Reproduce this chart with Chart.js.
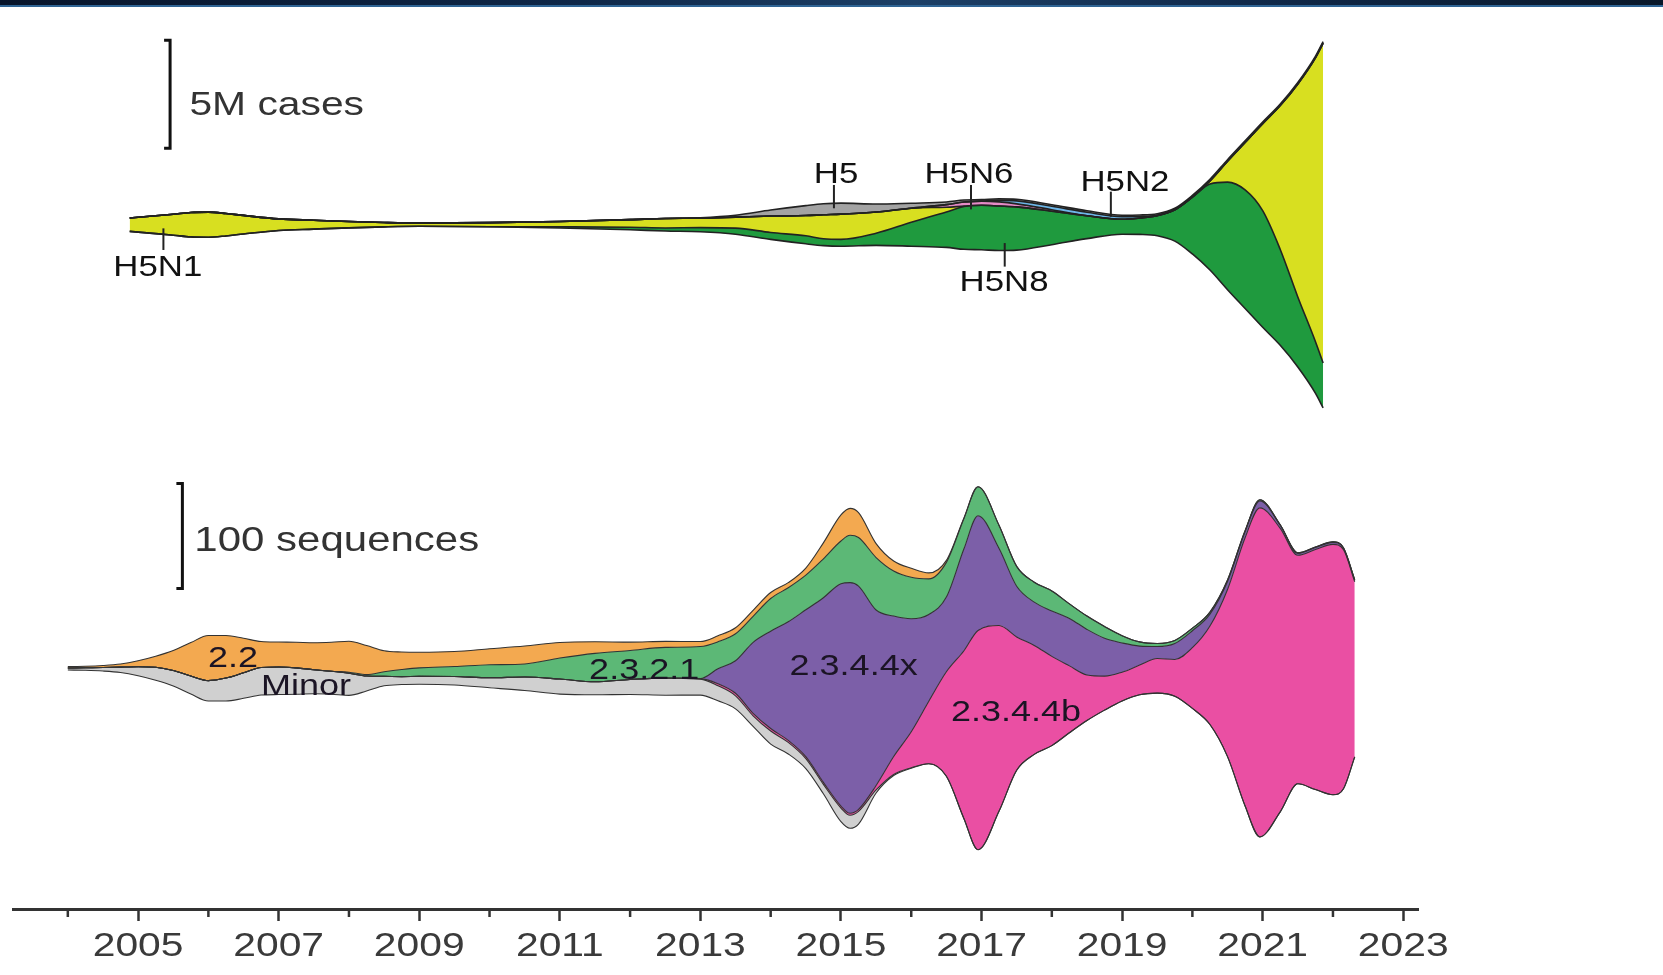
<!DOCTYPE html>
<html>
<head>
<meta charset="utf-8">
<title>H5 cases and sequences</title>
<script src="https://cdn.jsdelivr.net/npm/chart.js@4.4.1/dist/chart.umd.min.js"></script>
<style>
  body { margin: 0; background: #fff; }
  #wrap { position: relative; width: 1663px; height: 975px; }
  #banner { position: absolute; left: 0; top: 0; width: 1663px; height: 5px;
    background: linear-gradient(90deg, #07142a, #0e2748 35%, #1c3f66 55%, #10294a 75%, #081729);
    border-bottom: 2px solid #2f6494; }
  canvas { position: absolute; left: 0; top: 0; }
</style>
</head>
<body>
<div id="wrap">
  <canvas id="streams" width="1663" height="975"></canvas>
  <div id="banner"></div>
</div>
<script>
// top stream: reported cases by subtype, millions
var caseYears = [2004.88, 2005, 2005.25, 2005.5, 2005.75, 2006, 2006.25, 2006.5, 2007, 2007.5,
  2008, 2008.5, 2009, 2010, 2011, 2012, 2012.5, 2013, 2013.5, 2014,
  2014.5, 2014.75, 2015, 2015.5, 2016, 2016.5, 2016.75, 2017, 2017.25, 2017.5,
  2018, 2018.5, 2019, 2019.25, 2019.5, 2019.75, 2020, 2020.25, 2020.5, 2020.75,
  2021, 2021.25, 2021.5, 2021.75, 2021.86];
var h5n8 = [0, 0, 0, 0, 0, 0, 0, 0, 0, 0,
  0, 0, 0, 0, 0.05, 0.12, 0.14, 0.19, 0.28, 0.32,
  0.37, 0.32, 0.32, 0.56, 1.11, 1.64, 1.98, 2.06, 2.06, 2.00,
  1.55, 1.06, 0.69, 0.76, 0.93, 1.45, 2.62, 3.98, 4.98, 5.49,
  5.40, 4.44, 3.24, 2.39, 2.08];
var h5n1 = [0.62, 0.69, 0.83, 0.97, 1.13, 1.16, 1.04, 0.86, 0.54, 0.41,
  0.29, 0.20, 0.15, 0.19, 0.25, 0.35, 0.44, 0.44, 0.51, 0.76,
  0.94, 1.11, 1.17, 0.98, 0.65, 0.22, 0.02, 0, 0, 0,
  0, 0, 0, 0, 0, 0, 0.02, 0.15, 0.97, 2.20,
  4.03, 6.66, 9.86, 13.13, 14.81];
var h5n6 = [0, 0, 0, 0, 0, 0, 0, 0, 0, 0,
  0, 0, 0, 0, 0, 0, 0, 0, 0, 0,
  0, 0, 0, 0, 0, 0.12, 0.19, 0.19, 0.19, 0.14,
  0.07, 0, 0, 0, 0, 0, 0, 0, 0, 0,
  0, 0, 0, 0, 0];
var h5n2 = [0, 0, 0, 0, 0, 0, 0, 0, 0, 0,
  0, 0, 0, 0, 0, 0, 0, 0, 0, 0,
  0, 0, 0, 0, 0, 0, 0, 0, 0.07, 0.14,
  0.16, 0.16, 0.12, 0.07, 0.02, 0, 0, 0, 0, 0,
  0, 0, 0, 0, 0];
var h5 = [0, 0, 0, 0, 0, 0, 0, 0, 0, 0,
  0, 0, 0, 0, 0, 0, 0, 0.02, 0.09, 0.28,
  0.46, 0.51, 0.51, 0.37, 0.23, 0.12, 0.09, 0.07, 0.07, 0.07,
  0.07, 0.07, 0.07, 0.07, 0.07, 0.07, 0.07, 0.07, 0.07, 0.07,
  0.07, 0.07, 0.07, 0.07, 0.07];

// bottom stream: sequences by clade
var seqYears = [2004, 2004.25, 2004.5, 2004.75, 2005, 2005.25, 2005.5, 2005.75, 2006, 2006.25,
  2006.5, 2006.75, 2007, 2007.25, 2007.5, 2007.75, 2008, 2008.25, 2008.5, 2008.75,
  2009, 2009.5, 2010, 2010.5, 2011, 2011.5, 2012, 2012.5, 2013, 2013.25,
  2013.5, 2013.75, 2014, 2014.25, 2014.5, 2014.75, 2015, 2015.13, 2015.25, 2015.5,
  2015.75, 2016, 2016.25, 2016.5, 2016.75, 2016.95, 2017.25, 2017.5, 2017.75, 2018,
  2018.25, 2018.5, 2018.75, 2019, 2019.25, 2019.5, 2019.75, 2020, 2020.25, 2020.5,
  2020.75, 2020.96, 2021.25, 2021.5, 2021.75, 2022, 2022.15, 2022.31];
var minor = [1.9, 2.4, 3.3, 5.2, 8.6, 12.4, 14.8, 17.1, 19.5, 21.9,
  24.3, 26.2, 26.2, 25.2, 22.9, 21.9, 21.0, 14.3, 9.0, 7.6,
  7.6, 8.1, 9.5, 12.9, 14.3, 12.4, 14.3, 16.2, 15.2, 14.3,
  12.4, 10.0, 12.4, 11.0, 9.5, 9.0, 13.0, 12.4, 12.1, 2.9,
  1.0, 0.5, 0, 0, 0, 0, 0, 0, 0, 0,
  0, 0, 0, 0, 0, 0, 0, 0, 0, 0,
  0, 0, 0, 0, 0, 0, 0, 0];
var c2344b = [0, 0, 0, 0, 0, 0, 0, 0, 0, 0,
  0, 0, 0, 0, 0, 0, 0, 0, 0, 0,
  0, 0, 0, 0, 0, 0, 0, 0, 0.5, 1.9,
  2.4, 2.4, 2.4, 1.9, 1.9, 1.9, 1.9, 1.9, 1.9, 4.3,
  17.1, 34.3, 59.5, 99.5, 160.0, 208.9, 176.8, 127.0, 103.8, 85.0,
  63.7, 43.4, 32.4, 27.4, 28.2, 32.9, 35.0, 57.8, 93.8, 159.2,
  255.5, 313.3, 270.0, 217.6, 228.6, 238.5, 227.6, 166.7];
var c2344x = [0, 0, 0, 0, 0, 0, 0, 0, 0, 0,
  0, 0, 0, 0, 0, 0, 0, 0, 0, 0,
  0, 0, 0, 0, 0, 0, 0, 0, 0, 14.3,
  31.0, 67.6, 92.7, 113.0, 139.8, 175.8, 211.7, 219.6, 212.6, 167.1,
  133.8, 107.6, 82.6, 71.1, 97.1, 109.2, 73.3, 48.3, 41.2, 43.3,
  45.2, 43.4, 36.0, 27.8, 18.1, 11.4, 15.2, 16.2, 11.4, 7.6,
  5.7, 6.7, 2.9, 1.9, 1.9, 1.9, 1.4, 1.4];
var c2321 = [0, 0, 0, 0, 0, 0, 0, 0, 0, 0,
  0, 0, 0, 0, 0, 0, 1.0, 1.4, 4.3, 6.7,
  8.1, 9.5, 12.4, 12.4, 20.0, 27.1, 27.6, 29.3, 30.5, 25.7,
  25.7, 24.8, 31.1, 32.4, 33.1, 37.1, 40.7, 45.1, 46.2, 50.0,
  42.9, 39.5, 33.9, 33.1, 28.9, 27.6, 21.9, 18.9, 19.0, 19.0,
  13.9, 12.7, 11.3, 7.0, 4.0, 2.9, 2.9, 2.4, 1.9, 1.4,
  1.0, 1.0, 0.5, 0.5, 0.5, 0.5, 0.5, 0.5];
var c22 = [1.4, 1.4, 1.9, 2.9, 5.7, 10.5, 19.0, 31.9, 42.9, 40.5,
  32.9, 24.8, 23.8, 24.3, 25.7, 27.6, 29.5, 27.6, 20.0, 16.7,
  14.8, 14.3, 15.2, 17.1, 14.8, 11.0, 7.9, 5.7, 4.8, 5.7,
  5.7, 5.7, 5.7, 4.8, 6.7, 15.2, 24.8, 25.7, 23.8, 13.3,
  9.5, 8.6, 5.7, 1.9, 0.5, 0, 0, 0, 0, 0,
  0, 0, 0, 0, 0, 0, 0, 0, 0, 0,
  0, 0, 0, 0, 0, 0, 0, 0];

var tickYears = [2004, 2005, 2006, 2007, 2008, 2009, 2010, 2011, 2012, 2013,
  2014, 2015, 2016, 2017, 2018, 2019, 2020, 2021, 2022, 2023];
var yearLabels = ['2005', '2007', '2009', '2011', '2013', '2015', '2017', '2019', '2021', '2023'];

// layers listed bottom to top
var subtypeLayers = [h5n8, h5n1, h5n6, h5n2, h5];
var subtypeColors = ['#1f9a3e', '#d8df20', '#e58ac6', '#6db6e8', '#a3a3a3'];
var cladeLayers = [minor, c2344b, c2344x, c2321, c22];
var cladeColors = ['#d0d0d0', '#ea4fa3', '#7c5fa8', '#5cb876', '#f3a950'];

// vertical scale of each stream and where its middle sits
var AREA_H = 909;
var CASE_PX = 21.6, CASE_MID = 224.7;   // px per million, centre line
var SEQ_PX = 1.05, SEQ_MID = 668.3;     // px per sequence, centre line

// silhouette stacking: the stack is centred on zero, each layer fills down to the one below
function streamSets(years, layers, colors, axis, edge, edgeW) {
    var totals = years.map(function (yr, i) {
        return layers.reduce(function (s, l) { return s + l[i]; }, 0);
    });
    var run = totals.map(function (t) { return -t / 2; });
    var common = {
        yAxisID: axis,
        pointRadius: 0,
        borderColor: edge,
        borderWidth: edgeW,
        cubicInterpolationMode: 'monotone'
    };
    var sets = [Object.assign({
        data: years.map(function (yr, i) { return {x: yr, y: run[i]}; }),
        fill: false
    }, common)];
    layers.forEach(function (layer, k) {
        run = run.map(function (v, i) { return v + layer[i]; });
        sets.push(Object.assign({
            data: years.map(function (yr, i) { return {x: yr, y: run[i]}; }),
            fill: '-1',
            backgroundColor: colors[k]
        }, common));
    });
    return sets;
}

// the lettering is a little wide, so stretch it sideways
var SX = 1.2, TEXT_DY = 3;
function text(ctx, str, x, y, size, color, align) {
    ctx.save();
    ctx.font = size + 'px "Liberation Sans", Arial, sans-serif';
    ctx.fillStyle = color;
    ctx.textBaseline = 'middle';
    ctx.textAlign = align || 'center';
    ctx.translate(x, y + TEXT_DY);
    ctx.scale(SX, 1);
    ctx.fillText(str, 0, 0);
    ctx.restore();
}

function line(ctx, x0, y0, x1, y1) {
    ctx.beginPath();
    ctx.moveTo(x0, y0);
    ctx.lineTo(x1, y1);
    ctx.stroke();
}

function bracket(ctx, x, y0, y1) {
    ctx.beginPath();
    ctx.moveTo(x - 6, y0);
    ctx.lineTo(x, y0);
    ctx.lineTo(x, y1);
    ctx.lineTo(x - 6, y1);
    ctx.stroke();
}

var extras = {
    id: 'extras',
    afterDraw: function (chart) {
        var ctx = chart.ctx;
        var xs = chart.scales.x, yc = chart.scales.yCases, ys = chart.scales.ySeq;
        var bottom = chart.chartArea.bottom;

        // short ticks on the even years
        ctx.save();
        ctx.strokeStyle = '#333';
        ctx.lineWidth = 2.5;
        tickYears.forEach(function (yr) {
            if (yr % 2 === 0) {
                var px = xs.getPixelForValue(yr);
                line(ctx, px, bottom, px, bottom + 8);
            }
        });
        ctx.restore();

        yearLabels.forEach(function (lbl) {
            text(ctx, lbl, xs.getPixelForValue(Number(lbl)), bottom + 35, 34, '#3a3a3a');
        });

        // scale bars: 5M cases and 100 sequences
        ctx.save();
        ctx.strokeStyle = '#111';
        ctx.lineWidth = 3;
        bracket(ctx, xs.getPixelForValue(2005.455), yc.getPixelForValue(8.54), yc.getPixelForValue(3.54));
        bracket(ctx, xs.getPixelForValue(2005.63), ys.getPixelForValue(175.9), ys.getPixelForValue(75.9));
        ctx.restore();
        text(ctx, '5M cases', xs.getPixelForValue(2005.73), yc.getPixelForValue(5.63), 34, '#333', 'left');
        text(ctx, '100 sequences', xs.getPixelForValue(2005.80), ys.getPixelForValue(124.1), 35, '#333', 'left');

        // subtype names with leader lines
        var tags = [
            ['H5N1', 2005.28, -1.87, 2005.36, -0.17, -1.17],
            ['H5', 2014.93, 2.44, 2014.90, 1.84, 0.76],
            ['H5N6', 2016.82, 2.44, 2016.85, 1.84, 0.71],
            ['H5N2', 2019.04, 2.09, 2018.84, 1.53, 0.37],
            ['H5N8', 2017.32, -2.55, 2017.33, -0.85, -1.94]
        ];
        ctx.save();
        ctx.strokeStyle = '#222';
        ctx.lineWidth = 2;
        tags.forEach(function (t) {
            var lx = xs.getPixelForValue(t[3]);
            line(ctx, lx, yc.getPixelForValue(t[4]), lx, yc.getPixelForValue(t[5]));
        });
        ctx.restore();
        tags.forEach(function (t) {
            text(ctx, t[0], xs.getPixelForValue(t[1]), yc.getPixelForValue(t[2]), 29, '#111');
        });

        // clade names sit inside their bands
        [
            ['2.2', 2006.35, 11.7],
            ['Minor', 2007.39, -15],
            ['2.3.2.1', 2012.20, 0.3],
            ['2.3.4.4x', 2015.18, 4],
            ['2.3.4.4b', 2017.49, -39.7]
        ].forEach(function (t) {
            text(ctx, t[0], xs.getPixelForValue(t[1]), ys.getPixelForValue(t[2]), 30, '#1b1424');
        });
    }
};

var datasets = streamSets(caseYears, subtypeLayers, subtypeColors, 'yCases', '#222', 1.6)
    .concat(streamSets(seqYears, cladeLayers, cladeColors, 'ySeq', '#333', 1.1));

new Chart(document.getElementById('streams'), {
    type: 'line',
    data: { datasets: datasets },
    options: {
        responsive: false,
        animation: false,
        layout: { padding: { left: 13, right: 245, top: 0, bottom: 0 } },
        plugins: {
            legend: { display: false },
            tooltip: { enabled: false },
            filler: { drawTime: 'beforeDatasetsDraw' }
        },
        scales: {
            x: {
                type: 'linear',
                min: 2003.22,
                max: 2023.21,
                bounds: 'data',
                afterBuildTicks: function (scale) {
                    scale.ticks = tickYears.map(function (v) { return {value: v}; });
                },
                afterFit: function (scale) { scale.height = 975 - AREA_H; },
                ticks: { display: false },
                grid: {
                    drawOnChartArea: false,
                    drawTicks: true,
                    tickLength: 12,
                    tickWidth: 2.5,
                    tickColor: function (c) {
                        return c.tick && c.tick.value % 2 === 1 ? '#333' : 'rgba(0,0,0,0)';
                    }
                },
                border: { display: true, color: '#333', width: 3 }
            },
            yCases: {
                type: 'linear',
                display: false,
                min: -(AREA_H - CASE_MID) / CASE_PX,
                max: CASE_MID / CASE_PX
            },
            ySeq: {
                type: 'linear',
                display: false,
                min: -(AREA_H - SEQ_MID) / SEQ_PX,
                max: SEQ_MID / SEQ_PX
            }
        }
    },
    plugins: [extras]
});
</script>
</body>
</html>
